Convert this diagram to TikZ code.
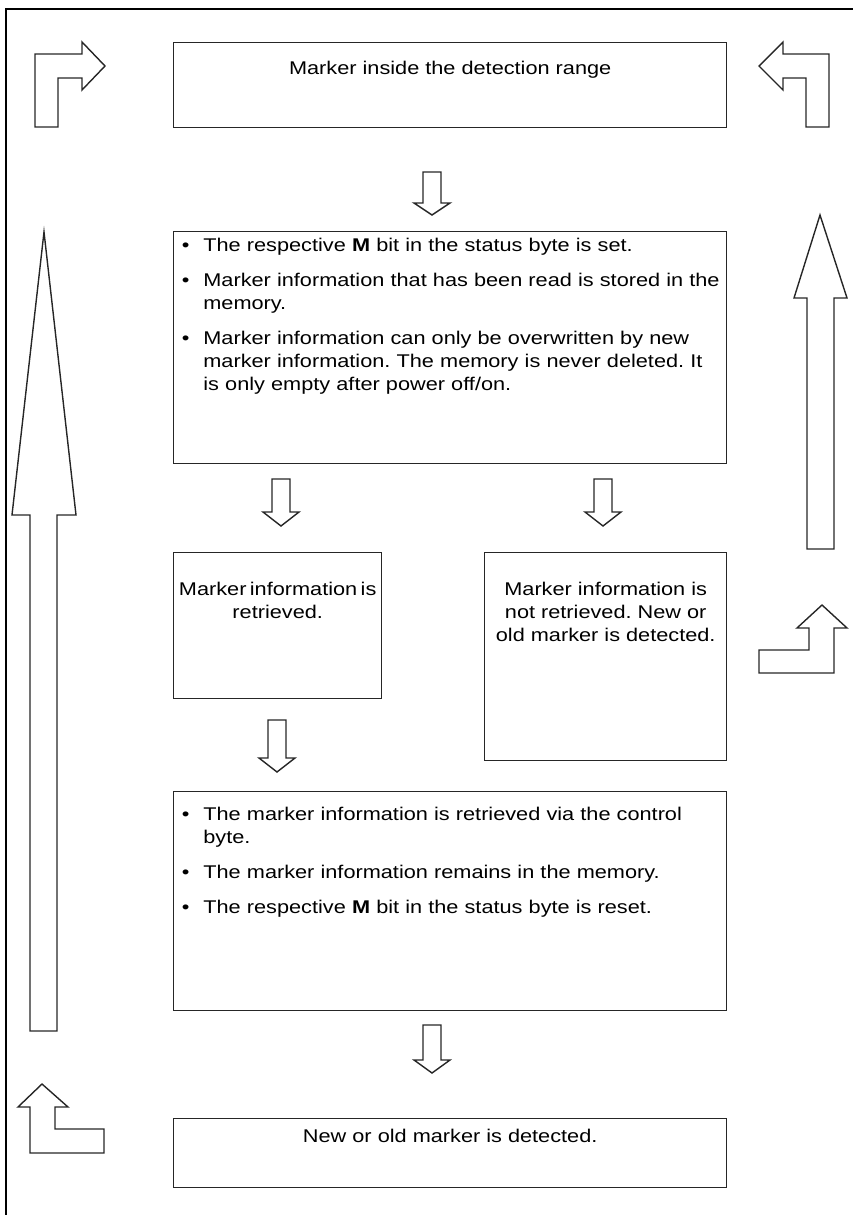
\documentclass[tikz,border=0pt]{standalone}
\usepackage{fontspec}
\setmainfont{Liberation Sans}[FakeStretch=1.18]
\usetikzlibrary{positioning, calc}
\newcommand{\tightspace}{\spaceskip=1.7pt\relax}
\newenvironment{dotlist}{\begin{list}{\textbullet}{%
  \setlength{\leftmargin}{15pt}\setlength{\labelsep}{7pt}\setlength{\labelwidth}{8pt}%
  \setlength{\itemsep}{6pt}\setlength{\parsep}{0pt}\setlength{\topsep}{0pt}%
  \setlength{\partopsep}{0pt}\setlength{\itemindent}{0pt}}}{\end{list}}
\tikzset{
  box/.style={draw=black!85, line width=0.7pt, inner sep=0pt, anchor=north west},
  blk/.style={draw=black!85, line width=0.7pt, line join=miter},
  txt/.style={font=\fontsize{9.2}{11.5}\selectfont\frenchspacing, inner sep=0pt, align=center, anchor=north},
  lst/.style={font=\fontsize{9.2}{11.5}\selectfont\frenchspacing, inner sep=0pt, text width=274pt, align=left}
}

\begin{document}
\begin{tikzpicture}[x=0.5pt, y=-0.5pt]
  \useasboundingbox (0,0) rectangle (853,1215);
  \draw[line width=1.3pt] (6,1215) -- (6,9) -- (853,9);

  \node[box, minimum width=276.5pt, minimum height=42.5pt] (range) at (173,42) {};
  \node[box, minimum width=276.5pt, minimum height=116pt] (setbit) at (173,231) {};
  \node[box, minimum width=104pt, minimum height=73pt] (read) at (173,552) {};
  \node[box, minimum width=121pt, minimum height=104pt] (notread) at (484,552) {};
  \node[box, minimum width=276.5pt, minimum height=109.5pt] (resetbit) at (173,791) {};
  \node[box, minimum width=276.5pt, minimum height=34.5pt] (detect) at (173,1118) {};

  \node[txt, below=9.5pt of range.north] (rangetxt) {Marker inside the detection range};
  \node[lst, below right=-1.5pt and 0pt of setbit.north west] (setbittxt) {\begin{dotlist}
    \item The respective \textbf{M} bit in the status byte is set.
    \item Marker information that has been read is stored in the\newline memory.
    \item Marker information can only be overwritten by new\newline marker information. The memory is never deleted. It\newline is only empty after power off/on.
  \end{dotlist}};
  \node[txt, font={\fontsize{9.2}{11.5}\selectfont\tightspace}, below=15pt of read.north] (readtxt) {Marker information is\\retrieved.};
  \node[txt, below=15pt of notread.north] (notreadtxt) {Marker information is\\not retrieved. New or\\old marker is detected.};
  \node[lst, below right=3pt and 0pt of resetbit.north west] (resetbittxt) {\begin{dotlist}
    \item The marker information is retrieved via the control\newline byte.
    \item The marker information remains in the memory.
    \item The respective \textbf{M} bit in the status byte is reset.
  \end{dotlist}};
  \node[txt, below=5.5pt of detect.north] (detecttxt) {New or old marker is detected.};

  \foreach \x/\t/\b/\p in {432/172/203/215, 281/479/512/526, 603/479/512/526, 277/720/758/772, 432/1025/1060/1073}{
    \draw[blk] (\x-9,\t) -- (\x+9,\t) -- (\x+9,\b) -- (\x+18,\b) -- (\x,\p) -- (\x-18,\b) -- (\x-9,\b) -- cycle;
  }

  \draw[blk] (35,127) -- (35,54) -- (82,54) -- (82,42) -- (105,66) -- (82,90) -- (82,78) -- (58,78) -- (58,127) -- cycle;
  \draw[blk] (829,127) -- (829,54) -- (783,54) -- (783,42) -- (759,66) -- (783,90) -- (783,78) -- (806,78) -- (806,127) -- cycle;
  \draw[blk] (42,1084) -- (68,1107) -- (55,1107) -- (55,1129) -- (104,1129) -- (104,1153) -- (30,1153) -- (30,1107) -- (18,1107) -- cycle;
  \draw[blk] (822,605) -- (847,628) -- (834,628) -- (834,673) -- (759,673) -- (759,650) -- (809,650) -- (809,628) -- (797,628) -- cycle;

  \draw[blk] (44,232) -- (76,515) -- (57,515) -- (57,1031) -- (30,1031) -- (30,515) -- (12,515) -- cycle;
  \draw[blk] (820,215) -- (847,298) -- (834,298) -- (834,549) -- (807,549) -- (807,298) -- (794,298) -- cycle;
\end{tikzpicture}
\end{document}
